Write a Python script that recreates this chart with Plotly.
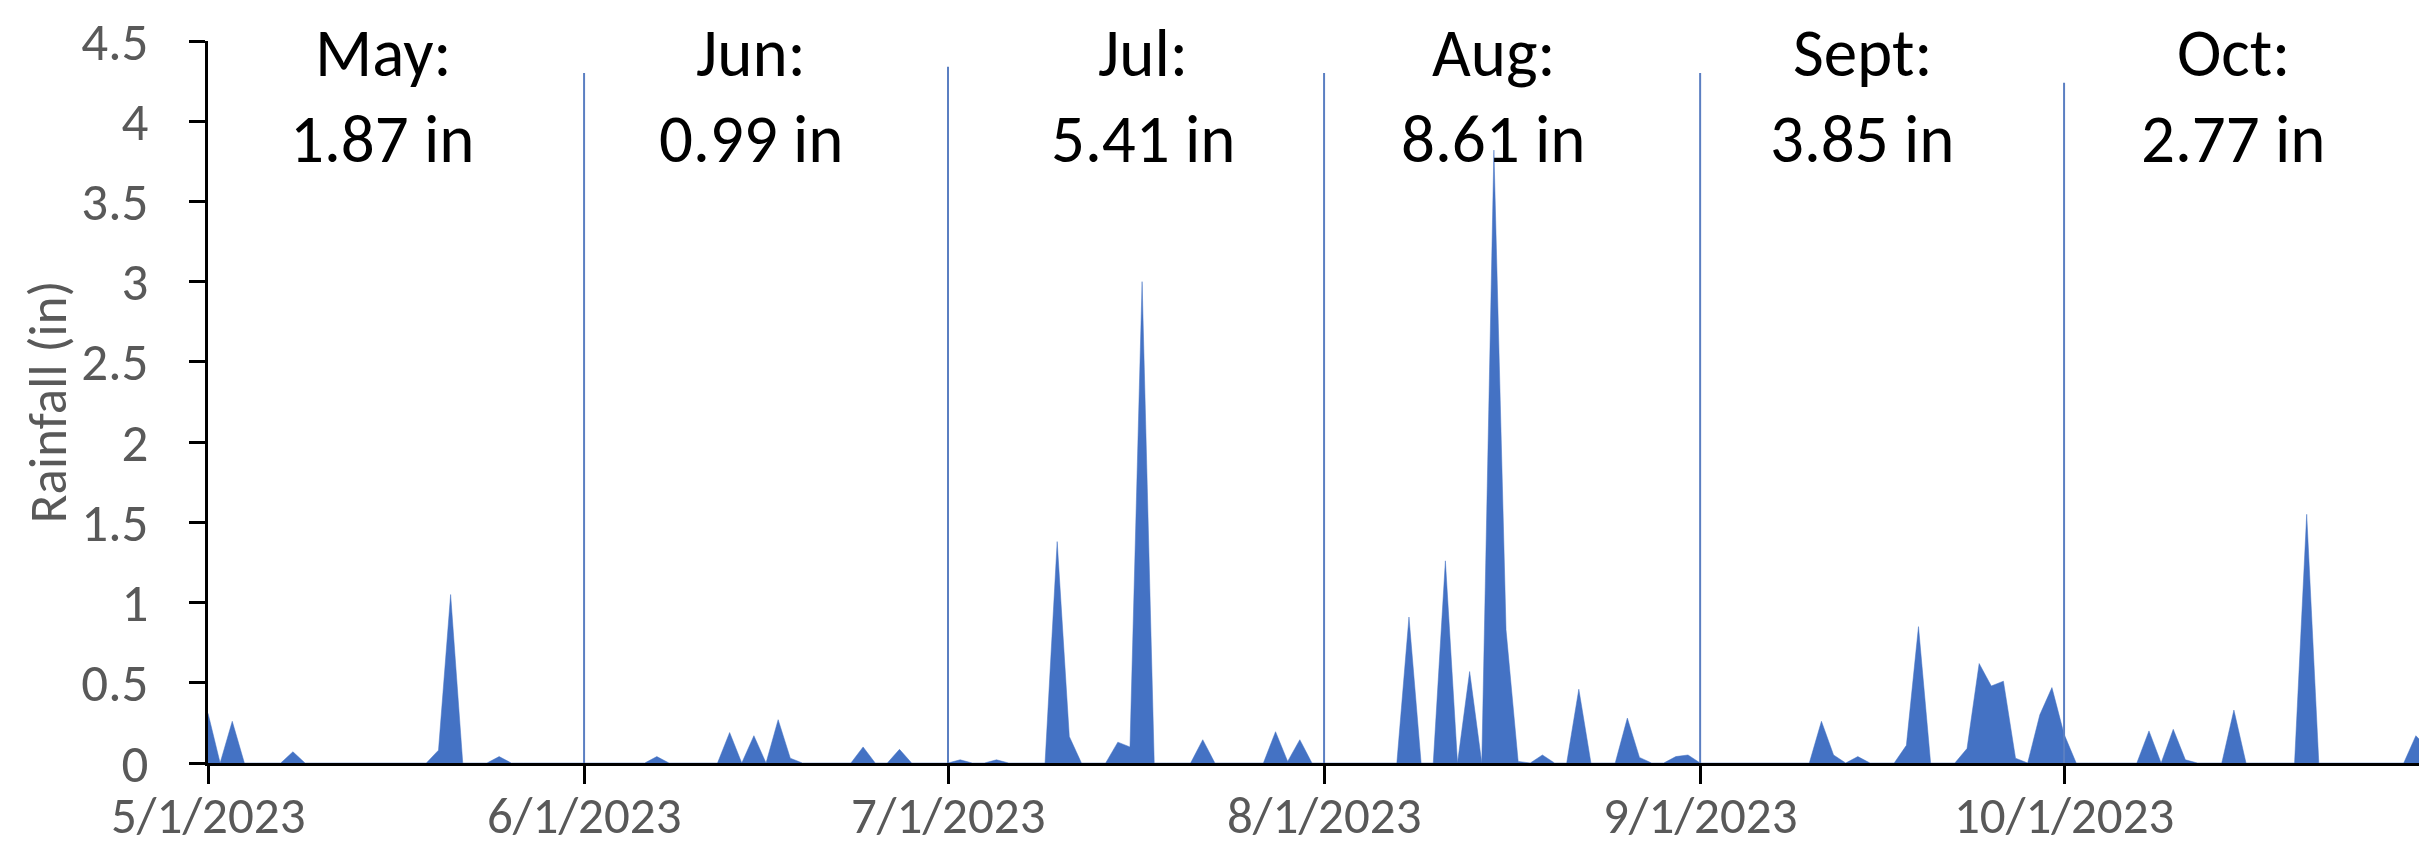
import pandas as pd
import plotly.graph_objects as go

# ---- data (daily rainfall, inches) ----
may = [0.31, 0, 0.26, 0, 0, 0, 0, 0.07, 0, 0, 0, 0, 0, 0, 0, 0, 0, 0, 0, 0.08, 1.05,
       0, 0, 0, 0.04, 0, 0, 0, 0, 0, 0]
jun = [0, 0, 0, 0, 0, 0, 0.04, 0, 0, 0, 0, 0, 0.19, 0, 0.17, 0, 0.27, 0.03, 0, 0,
       0, 0, 0, 0.10, 0, 0, 0.085, 0, 0, 0]
jul = [0, 0.02, 0, 0, 0.02, 0, 0, 0, 0, 1.38, 0.165, 0, 0, 0, 0.13, 0.10, 3.0, 0, 0, 0,
       0, 0.145, 0, 0, 0, 0, 0, 0.195, 0.01, 0.145, 0]
aug = [0, 0, 0, 0, 0, 0, 0, 0.91, 0, 0, 1.26, 0, 0.57, 0, 3.82, 0.83, 0.01, 0, 0.05, 0,
       0, 0.46, 0, 0, 0, 0.28, 0.035, 0, 0, 0.04, 0.05]
sep = [0, 0, 0, 0, 0, 0, 0, 0, 0, 0, 0.26, 0.05, 0, 0.04, 0, 0, 0, 0.11, 0.85, 0,
       0, 0, 0.09, 0.62, 0.48, 0.51, 0.03, 0, 0.30, 0.47]
oct_ = [0.18, 0, 0, 0, 0, 0, 0, 0.20, 0, 0.21, 0.02, 0, 0, 0, 0.33, 0, 0, 0, 0, 0,
        1.55, 0, 0, 0, 0, 0, 0, 0, 0, 0.17, 0.09]

rain = may + jun + jul + aug + sep + oct_
dates = pd.date_range("2023-05-01", "2023-10-31", freq="D")

month_starts = ["2023-05-01", "2023-06-01", "2023-07-01", "2023-08-01", "2023-09-01", "2023-10-01"]
tick_labels = ["5/1/2023", "6/1/2023", "7/1/2023", "8/1/2023", "9/1/2023", "10/1/2023"]
y_ticks = [0, 0.5, 1, 1.5, 2, 2.5, 3, 3.5, 4, 4.5]
y_tick_labels = ["0", "0.5", "1", "1.5", "2", "2.5", "3", "3.5", "4", "4.5"]

month_names = ["May:", "Jun:", "Jul:", "Aug:", "Sept:", "Oct:"]
month_totals = ["1.87 in", "0.99 in", "5.41 in", "8.61 in", "3.85 in", "2.77 in"]
label_dates = ["2023-05-15 10:00", "2023-06-14 19:00", "2023-07-17 02:00",
               "2023-08-15 00:00", "2023-09-14 10:00", "2023-10-15 00:00"]
divider_tops = [4.30, 4.34, 4.30, 4.30, 4.24]

FONT = "Carlito, Lato, sans-serif"
GREY = "#595959"

fig = go.Figure()
fig.add_trace(go.Scatter(
    x=dates, y=rain, mode="lines", fill="tozeroy",
    line=dict(color="#4472C4", width=0.5), fillcolor="#4472C4",
    showlegend=False, hoverinfo="x+y",
))

shapes = []
for d, top in zip(month_starts[1:], divider_tops):
    shapes.append(dict(type="line", xref="x", yref="y", x0=d, x1=d, y0=-0.175, y1=top,
                       line=dict(color="#5B7FC2", width=2), layer="above"))

annotations = []
for d, name, tot in zip(label_dates, month_names, month_totals):
    annotations.append(dict(x=d, y=4.425, xref="x", yref="y", text=name, showarrow=False,
                            font=dict(family=FONT, size=67, color="black"),
                            xanchor="center", yanchor="middle"))
    annotations.append(dict(x=d, y=3.889, xref="x", yref="y", text=tot, showarrow=False,
                            font=dict(family=FONT, size=67, color="black"),
                            xanchor="center", yanchor="middle"))

# x tick labels (placed under the month-start ticks)
for d, lab in zip(month_starts, tick_labels):
    annotations.append(dict(x=d, y=-0.073, xref="x", yref="paper", text=lab, showarrow=False,
                            font=dict(family=FONT, size=51, color=GREY),
                            xanchor="center", yanchor="middle", borderpad=0))

# y-axis title as rotated text
annotations.append(dict(x=-0.072, y=0.5, xref="paper", yref="paper", text="Rainfall (in)",
                        textangle=-90, showarrow=False,
                        font=dict(family=FONT, size=53, color=GREY),
                        xanchor="center", yanchor="middle"))

fig.update_layout(
    width=2427, height=852,
    margin=dict(l=200, r=7, t=33, b=97, autoexpand=False),
    paper_bgcolor="white", plot_bgcolor="white",
    shapes=shapes, annotations=annotations,
    font=dict(family=FONT, color=GREY),
)
fig.update_xaxes(
    type="date", range=["2023-05-01", "2023-10-31"],
    tickvals=month_starts, showticklabels=False,
    ticks="outside", ticklen=18, tickwidth=3, tickcolor="black",
    showline=True, linecolor="black", linewidth=3,
    showgrid=False, zeroline=False, automargin=False,
)
fig.update_yaxes(
    range=[0, 4.5], tickvals=y_ticks, ticktext=y_tick_labels,
    ticks="outside", ticklen=16, tickwidth=3, tickcolor="black",
    showline=True, linecolor="black", linewidth=3,
    showgrid=False, zeroline=False, automargin=False,
    tickfont=dict(family=FONT, size=53, color=GREY),
    ticklabelstandoff=30,
)

fig.write_html("out.html")
